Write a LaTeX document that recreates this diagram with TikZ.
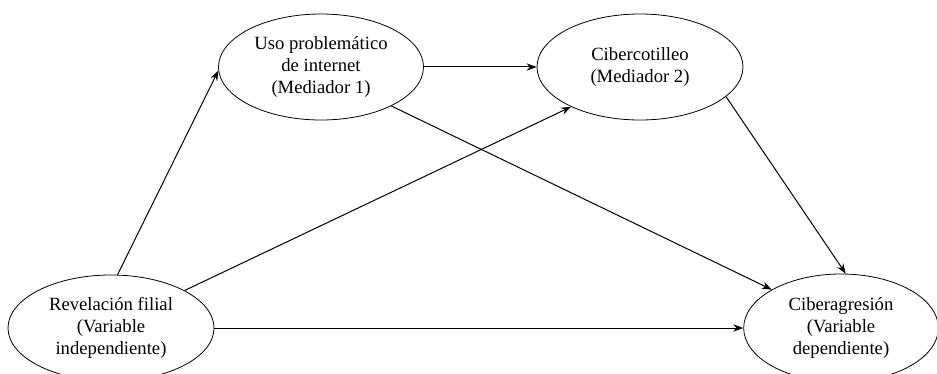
\documentclass[tikz,border=0pt]{standalone}
\usepackage{fontspec}
\setmainfont{Liberation Serif}
\usetikzlibrary{shapes.geometric,arrows.meta}
\begin{document}
\begin{tikzpicture}[x=0.75pt,y=-0.75pt,
  var/.style={ellipse,draw,line width=0.6pt,inner sep=0pt,align=center,
    font=\fontsize{14}{16.3}\selectfont},
  conn/.style={line width=0.75pt,-{Stealth[length=7.5pt,width=5.5pt]}}]
\useasboundingbox (0,0) rectangle (937,374);
\node[var,minimum width=154.5pt,minimum height=79.5pt] (L) at (111,328) {Revelación filial\\(Variable\\independiente)};
\node[var,minimum width=153.75pt,minimum height=79.5pt] (M) at (321,67) {Uso problemático\\de internet\\(Mediador 1)};
\node[var,minimum width=154.5pt,minimum height=79.5pt] (C) at (640,67) {Cibercotilleo\\(Mediador 2)};
\node[var,minimum width=146pt,minimum height=81pt] (R) at (841,328) {Ciberagresión\\(Variable\\dependiente)};
\draw[conn] (L.83.5) -- (M.182);
\draw[conn] (L.27) -- (C.210.4);
\draw[conn] (L.east) -- (R.west);
\draw[conn] (M.east) -- (C.west);
\draw[conn] (M.-29) -- (R.151);
\draw[conn] (C.-19.4) -- (R.85);
\end{tikzpicture}
\end{document}
